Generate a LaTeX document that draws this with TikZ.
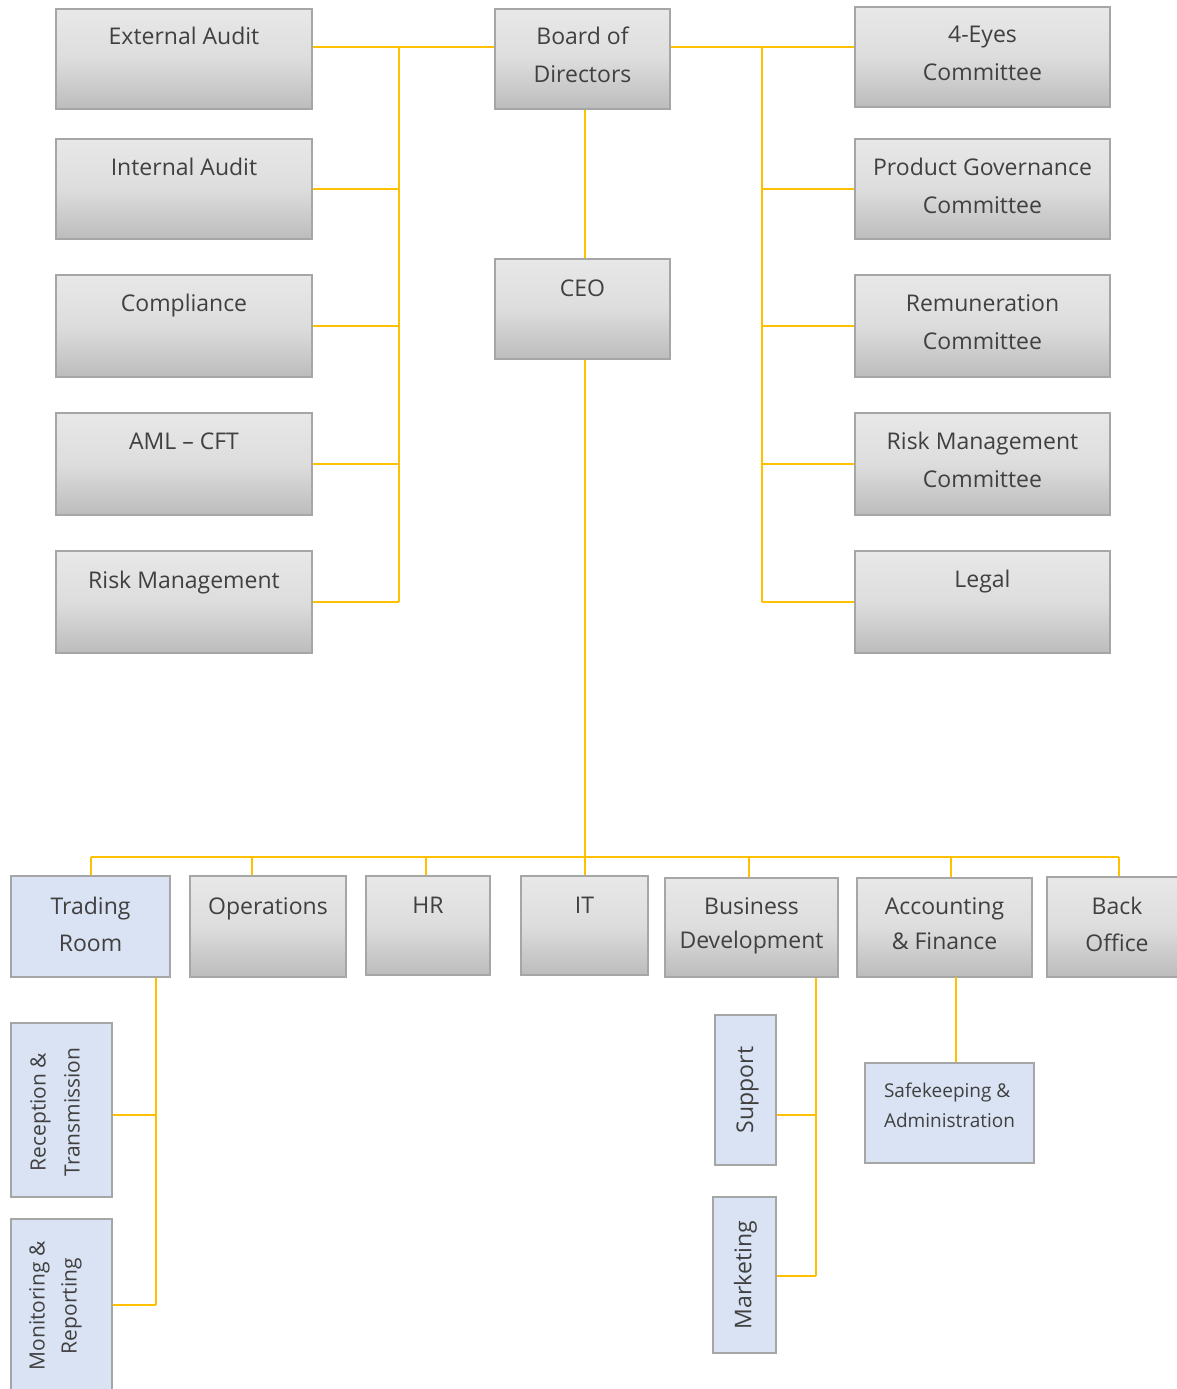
\documentclass[tikz,border=0pt]{standalone}
\usepackage{fontspec}
\setmainfont{Open Sans}
\definecolor{linkyellow}{HTML}{FFC000}
\definecolor{boxline}{HTML}{A6A6A6}
\definecolor{boxblue}{HTML}{DAE3F3}
\definecolor{txtgray}{HTML}{404040}
\definecolor{shtop}{HTML}{E8E8E8}
\definecolor{shmid}{HTML}{DDDDDD}
\definecolor{shbot}{HTML}{BCBCBC}
\tikzset{
	gbox/.style={draw=boxline,line width=1.5pt,inner sep=0pt,top color=shtop,bottom color=shbot,middle color=shmid},
	bbox/.style={draw=boxline,line width=1.5pt,inner sep=0pt,fill=boxblue},
	lbl/.style={anchor=north,yshift=-20pt,inner sep=0pt,align=center,text=txtgray,font=\fontsize{23}{38}\selectfont},
	rlbl/.style={rotate=90,inner sep=0pt,align=center,text=txtgray,font=\fontsize{23}{34}\selectfont},
	link/.style={draw=linkyellow,line width=2pt}
}
\begin{document}
\begin{tikzpicture}[x=1pt,y=-1pt]
		\useasboundingbox (0,0) rectangle (1177,1389);
		%
		% top: board and its committees
		\node[gbox,minimum width=175pt,minimum height=100pt,label={[lbl,yshift=1.5pt]north:Board of\\Directors}] (board) at (582.5,59) {};
		\node[gbox,minimum width=175pt,minimum height=100pt,label={[lbl,yshift=-1.5pt]north:CEO}] (ceo) at (582.5,309) {};
		\node[gbox,minimum width=256pt,minimum height=100pt,label={[lbl,yshift=1pt]north:External Audit}] (ext) at (184,59) {};
		\node[gbox,minimum width=256pt,minimum height=100pt,label={[lbl]north:Internal Audit}] (ia) at (184,189) {};
		\node[gbox,minimum width=256pt,minimum height=102pt,label={[lbl]north:Compliance}] (comp) at (184,326) {};
		\node[gbox,minimum width=256pt,minimum height=102pt,label={[lbl]north:AML -- CFT}] (aml) at (184,464) {};
		\node[gbox,minimum width=256pt,minimum height=102pt,label={[lbl,yshift=-1pt]north:Risk Management}] (rm) at (184,602) {};
		\node[gbox,minimum width=255pt,minimum height=100pt,label={[lbl]north:4-Eyes\\Committee}] (eyes) at (982.5,57) {};
		\node[gbox,minimum width=255pt,minimum height=100pt,label={[lbl]north:Product Governance\\Committee}] (pgc) at (982.5,189) {};
		\node[gbox,minimum width=255pt,minimum height=102pt,label={[lbl]north:Remuneration\\Committee}] (rem) at (982.5,326) {};
		\node[gbox,minimum width=255pt,minimum height=102pt,label={[lbl]north:Risk Management\\Committee}] (rmc) at (982.5,464) {};
		\node[gbox,minimum width=255pt,minimum height=102pt,label={[lbl]north:Legal}] (legal) at (982.5,602) {};
		%
		% bottom row: departments
		\node[bbox,minimum width=159pt,minimum height=101pt,label={[lbl,yshift=-2pt,font=\fontsize{23}{37}\selectfont]north:Trading\\Room}] (tr) at (90.5,926.5) {};
		\node[gbox,minimum width=156pt,minimum height=101pt,label={[lbl,yshift=-2pt]north:Operations}] (ops) at (268,926.5) {};
		\node[gbox,minimum width=124pt,minimum height=99pt,label={[lbl,yshift=-2pt]north:HR}] (hr) at (428,925.5) {};
		\node[gbox,minimum width=127pt,minimum height=99pt,label={[lbl,yshift=-2pt]north:IT}] (it) at (584.5,925.5) {};
		\node[gbox,minimum width=173pt,minimum height=99pt,label={[lbl,font=\fontsize{23}{34}\selectfont]north:Business\\Development}] (bd) at (751.5,927.5) {};
		\node[gbox,minimum width=175pt,minimum height=99pt,label={[lbl,font=\fontsize{23}{35}\selectfont]north:Accounting\\\& Finance}] (af) at (944.5,927.5) {};
		\node[gbox,minimum width=143pt,minimum height=100pt,label={[lbl,xshift=-1.5pt,yshift=-1pt,font=\fontsize{23}{37}\selectfont]north:Back\\Office}] (bo) at (1118.5,927) {};
		%
		% sub units (rotated text: xshift runs up the page, yshift runs left)
		\node[bbox,minimum width=101pt,minimum height=174pt,label={[rlbl,xshift=-2pt,yshift=6.5pt,font=\fontsize{21}{34}\selectfont]center:Reception \&\\Transmission}] (rt) at (61.5,1110) {};
		\node[bbox,minimum width=101pt,minimum height=182pt,label={[rlbl,xshift=4pt,yshift=6pt,font=\fontsize{21}{32}\selectfont]center:Monitoring \&\\Reporting}] (mr) at (61.5,1310) {};
		\node[bbox,minimum width=61pt,minimum height=150pt,label={[rlbl,yshift=-2pt]center:Support}] (sup) at (745.5,1090) {};
		\node[bbox,minimum width=63pt,minimum height=156pt,label={[rlbl,yshift=-1pt]center:Marketing}] (mkt) at (744.5,1275) {};
		\node[bbox,minimum width=169pt,minimum height=100pt,label={[lbl,yshift=0pt,align=left,font=\fontsize{19}{30}\selectfont]north:Safekeeping \&\\Administration}] (sk) at (949.5,1113) {};
		%
		% bus points
		\coordinate (lbus) at (399,47);
		\coordinate (rbus) at (762,47);
		\coordinate (bbus) at (585,857);
		\coordinate (trbus) at (156,1305);
		\coordinate (trmid) at (156,1115);
		\coordinate (bdbus) at (816,1276);
		\coordinate (bdmid) at (816,1115);
		\coordinate (afbus) at (956,977);
		%
		\draw[link] (ext.east |- lbus) -- (board.west |- lbus);
		\draw[link] (lbus) -- (lbus |- rm.east);
		\foreach \n in {ia,comp,aml,rm}
			\draw[link] (\n.east) -- (\n.east -| lbus);
		\draw[link] (board.east |- rbus) -- (eyes.west |- rbus);
		\draw[link] (rbus) -- (rbus |- legal.west);
		\foreach \n in {pgc,rem,rmc,legal}
			\draw[link] (\n.west) -- (\n.west -| rbus);
		%
		\draw[link] (board.south -| bbus) -- (ceo.north -| bbus);
		\draw[link] (ceo.south -| bbus) -- (bbus);
		\draw[link] (tr.north |- bbus) -- (bo.north |- bbus);
		\foreach \n/\dx in {tr/0,ops/-16,hr/-2,it/0,bd/-2.5,af/6.5,bo/0}
			\draw[link] ([xshift=\dx pt]\n.north) -- ([xshift=\dx pt]\n.north |- bbus);
		%
		\draw[link] (tr.south -| trbus) -- (trbus);
		\draw[link] (rt.east |- trmid) -- (trmid);
		\draw[link] (mr.east |- trbus) -- (trbus);
		\draw[link] (bd.south -| bdbus) -- (bdbus);
		\draw[link] (sup.east |- bdmid) -- (bdmid);
		\draw[link] (mkt.east |- bdbus) -- (bdbus);
		\draw[link] (afbus) -- (afbus |- sk.north);
\end{tikzpicture}
\end{document}
